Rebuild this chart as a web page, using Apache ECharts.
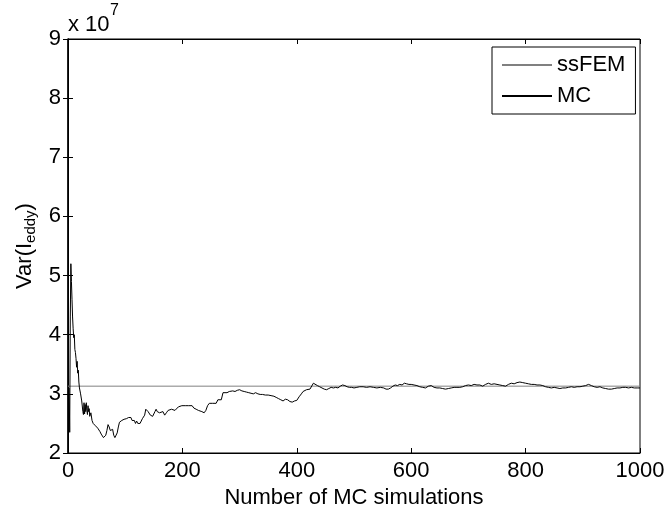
<!DOCTYPE html>
<html>
<head>
<meta charset="utf-8">
<script src="https://cdn.jsdelivr.net/npm/echarts@6/dist/echarts.min.js"></script>
<style>
  html, body { margin: 0; padding: 0; background: #fff; }
  #main { width: 667px; height: 510px; }
</style>
</head>
<body>
<div id="main"></div>
<script>
// 坐标轴刻度
var xTicks = [0, 200, 400, 600, 800, 1000];
var yTicks = [2, 3, 4, 5, 6, 7, 8, 9];

// ssFEM 结果 (x 10^7)
var ssfemN = [0, 1000];
var ssfemVar = [3.13, 3.13];

// MC 累计方差 (x 10^7)
var mcN = [2, 3, 4, 5, 6, 7, 8, 9, 10, 11, 12, 13, 14, 15, 16, 17, 18, 19, 20, 22, 24, 26, 27, 28, 29, 30,
  31, 32, 33, 34, 35, 36, 37, 38, 40, 42, 44, 46, 48, 50, 52, 54, 56, 58, 60, 62, 64, 66, 68, 70,
  72, 74, 76, 78, 80, 82, 84, 86, 88, 90, 92, 94, 96, 98, 100, 102, 104, 106, 108, 110, 112, 114, 116, 118,
  120, 122, 124, 126, 128, 130, 132, 134, 136, 138, 140, 142, 144, 146, 148, 150, 152, 154, 156, 158, 160,
  163, 166, 169, 172, 175, 178, 181, 184, 187, 190, 193, 196, 199, 202, 205, 208, 211, 214, 217, 220,
  224, 228, 231, 234, 238, 241, 244, 247, 250, 253, 256, 259, 262, 265, 268, 271, 274, 278, 282, 285,
  288, 292, 296, 300, 304, 308, 312, 316, 320, 324, 328, 332, 336, 340, 345, 350, 355, 360, 364, 368,
  372, 376, 380, 384, 388, 392, 396, 400, 404, 408, 411, 414, 417, 420, 423, 426, 429, 432, 436, 440,
  444, 448, 452, 456, 460, 464, 468, 472, 476, 480, 484, 488, 492, 496, 500, 505, 510, 516, 522, 528,
  534, 540, 546, 552, 556, 560, 564, 568, 572, 576, 580, 584, 588, 592, 596, 600, 605, 610, 615, 620,
  625, 630, 635, 640, 645, 650, 655, 660, 665, 670, 675, 680, 685, 690, 695, 700, 705, 710, 715, 720,
  725, 730, 735, 740, 745, 750, 755, 760, 765, 770, 775, 780, 785, 790, 795, 800, 805, 810, 815, 820,
  825, 830, 835, 840, 845, 850, 855, 860, 865, 870, 875, 880, 885, 890, 895, 900, 905, 910, 915, 920,
  925, 930, 935, 940, 945, 950, 955, 960, 965, 970, 975, 980, 985, 990, 995, 1000];
var mcVar = [3.1, 2.35, 4.3, 5.2, 4.9, 4.6, 4.3, 4.1, 3.95, 4.0, 3.75, 3.7, 3.6, 3.45, 3.55, 3.35, 3.4, 3.2, 3.1, 3.0, 2.88, 2.7, 2.65, 2.85, 2.66, 2.82,
  2.7, 2.85, 2.72, 2.65, 2.8, 2.7, 2.75, 2.62, 2.68, 2.55, 2.5, 2.52, 2.46, 2.48, 2.42, 2.4, 2.36, 2.32, 2.3, 2.26, 2.24, 2.3, 2.38, 2.48,
  2.44, 2.38, 2.36, 2.4, 2.3, 2.26, 2.24, 2.34, 2.44, 2.52, 2.5, 2.55, 2.52, 2.57, 2.54, 2.58, 2.55, 2.6, 2.57, 2.6, 2.55, 2.52, 2.55, 2.5,
  2.54, 2.5, 2.48, 2.5, 2.54, 2.58, 2.6, 2.64, 2.74, 2.72, 2.7, 2.68, 2.64, 2.66, 2.62, 2.65, 2.7, 2.74, 2.7, 2.72, 2.68,
  2.66, 2.7, 2.64, 2.68, 2.72, 2.7, 2.74, 2.76, 2.72, 2.74, 2.78, 2.76, 2.8, 2.82, 2.8, 2.82, 2.8, 2.78, 2.8, 2.76,
  2.74, 2.72, 2.73, 2.7, 2.68, 2.72, 2.8, 2.84, 2.86, 2.84, 2.86, 2.84, 2.9, 2.92, 2.9, 3.02, 3.03, 3.02, 3.04, 3.03,
  3.05, 3.04, 3.06, 3.07, 3.05, 3.04, 3.03, 3.02, 3.01, 3.0, 3.02, 3.0, 2.99, 2.99, 2.98, 2.98, 2.97, 2.96, 2.94, 2.92,
  2.9, 2.88, 2.91, 2.9, 2.87, 2.86, 2.88, 2.89, 2.95, 3.0, 3.04, 3.02, 3.07, 3.05, 3.08, 3.1, 3.18, 3.16, 3.14, 3.12,
  3.1, 3.08, 3.07, 3.09, 3.11, 3.1, 3.11, 3.1, 3.13, 3.15, 3.14, 3.12, 3.11, 3.11, 3.1, 3.11, 3.12, 3.12, 3.11, 3.12,
  3.11, 3.1, 3.11, 3.1, 3.08, 3.08, 3.1, 3.13, 3.15, 3.14, 3.16, 3.15, 3.18, 3.17, 3.16, 3.16, 3.15, 3.14, 3.12, 3.11,
  3.1, 3.13, 3.14, 3.11, 3.1, 3.1, 3.09, 3.08, 3.09, 3.1, 3.11, 3.11, 3.11, 3.12, 3.14, 3.15, 3.14, 3.16, 3.15, 3.15,
  3.13, 3.16, 3.18, 3.16, 3.17, 3.16, 3.15, 3.14, 3.13, 3.16, 3.18, 3.17, 3.19, 3.2, 3.19, 3.18, 3.17, 3.16, 3.16, 3.15,
  3.15, 3.14, 3.12, 3.11, 3.1, 3.11, 3.1, 3.09, 3.1, 3.1, 3.11, 3.12, 3.11, 3.12, 3.12, 3.13, 3.14, 3.16, 3.14, 3.12,
  3.11, 3.12, 3.1, 3.09, 3.08, 3.08, 3.09, 3.1, 3.1, 3.11, 3.11, 3.1, 3.11, 3.1, 3.1, 3.1];

function pairs(xs, ys) {
    var out = [];
    for (var i = 0; i < xs.length; i++) {
        out.push([xs[i], ys[i]]);
    }
    return out;
}

var font = "'Liberation Sans', Arial, sans-serif";
var myChart = echarts.init(document.getElementById('main'));

var tickStyle = { inside: true, length: 5, lineStyle: { color: '#000', width: 1 } };

var option = {
    backgroundColor: '#fff',
    animation: false,
    textStyle: { fontFamily: font, color: '#000' },
    grid: {
        left: 68,
        right: 27,
        top: 39,
        bottom: 57,
        outerBoundsMode: 'none',
        containLabel: false,
        show: true,
        borderColor: '#000',
        borderWidth: 1
    },
    legend: {
        orient: 'vertical',
        left: 492,
        top: 47,
        padding: [7, 10, 7, 9],
        itemGap: 9,
        itemWidth: 50,
        itemHeight: 22,
        itemStyle: { opacity: 0 },
        borderColor: '#000',
        borderWidth: 1,
        backgroundColor: '#fff',
        textStyle: { fontFamily: font, fontSize: 22, color: '#000', lineHeight: 22 },
        data: ['ssFEM', 'MC']
    },
    graphic: [
        { type: 'text', left: 68, top: 14, style: { text: 'x 10', font: '22px ' + font, fill: '#000' } },
        { type: 'text', left: 110, top: 3, style: { text: '7', font: '16px ' + font, fill: '#000' } }
    ],
    xAxis: [
        {
            type: 'value',
            min: xTicks[0],
            max: xTicks[xTicks.length - 1],
            interval: 200,
            name: 'Number of MC simulations',
            nameLocation: 'middle',
            nameGap: 33,
            nameTextStyle: { fontFamily: font, fontSize: 22, color: '#000' },
            axisLine: { show: true, lineStyle: { color: '#000', width: 1 } },
            axisTick: tickStyle,
            axisLabel: {
                fontFamily: font, fontSize: 22, color: '#000', margin: 7,
                formatter: function (v) { return String(v); }
            },
            splitLine: { show: false }
        },
        {
            type: 'value',
            position: 'top',
            min: xTicks[0],
            max: xTicks[xTicks.length - 1],
            interval: 200,
            axisLine: { show: true, lineStyle: { color: '#000', width: 1 } },
            axisTick: tickStyle,
            axisLabel: { show: false },
            splitLine: { show: false }
        }
    ],
    yAxis: [
        {
            type: 'value',
            min: yTicks[0],
            max: yTicks[yTicks.length - 1],
            interval: 1,
            name: '{a|Var(I}{b|eddy}{a|)}',
            nameLocation: 'middle',
            nameGap: 27,
            nameTextStyle: {
                rich: {
                    a: { fontFamily: font, fontSize: 22, color: '#000', lineHeight: 24, verticalAlign: 'top' },
                    b: { fontFamily: font, fontSize: 15, color: '#000', lineHeight: 16, verticalAlign: 'bottom', padding: [18, 0, 0, 0] }
                }
            },
            axisLine: { show: true, lineStyle: { color: '#000', width: 1.5 } },
            axisTick: tickStyle,
            axisLabel: { fontFamily: font, fontSize: 22, color: '#000', margin: 7 },
            splitLine: { show: false }
        },
        {
            type: 'value',
            position: 'right',
            min: yTicks[0],
            max: yTicks[yTicks.length - 1],
            interval: 1,
            axisLine: { show: true, lineStyle: { color: '#000', width: 1 } },
            axisTick: tickStyle,
            axisLabel: { show: false },
            splitLine: { show: false }
        }
    ],
    series: [
        {
            name: 'ssFEM',
            type: 'line',
            symbol: 'none',
            color: '#808080',
            lineStyle: { color: '#808080', width: 1 },
            data: pairs(ssfemN, ssfemVar)
        },
        {
            name: 'MC',
            type: 'line',
            symbol: 'none',
            color: '#000',
            lineStyle: { color: '#000', width: 1 },
            data: pairs(mcN, mcVar)
        }
    ]
};
myChart.setOption(option);
</script>
</body>
</html>
